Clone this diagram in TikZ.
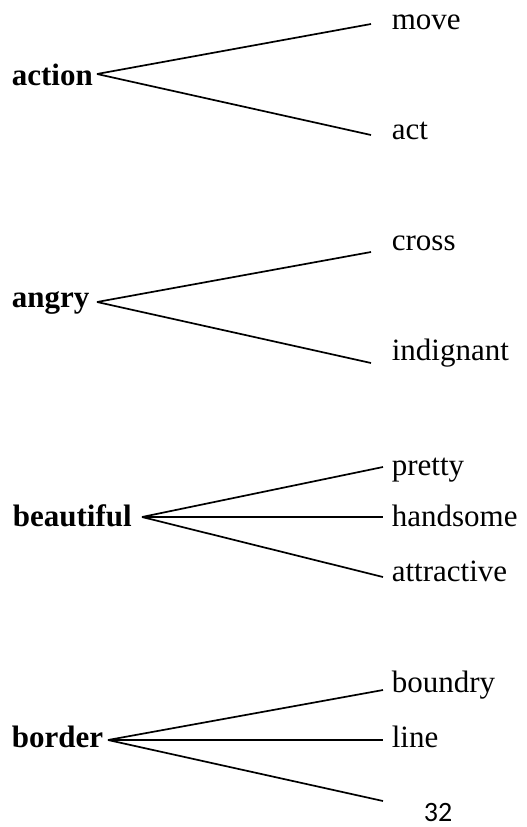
\documentclass[tikz,border=0pt]{standalone}
\usepackage{fontspec}
\setmainfont{Liberation Serif}
\newfontfamily\pagefont{Carlito}

\begin{document}
\begin{tikzpicture}[x=1pt,y=-1pt,
  point/.style={coordinate},
  word/.style={anchor=base west, inner sep=0pt, font=\fontsize{31}{37}\selectfont},
  head/.style={word, font=\fontsize{31}{37}\selectfont\bfseries},
  every path/.style={line width=1.7pt}]
\useasboundingbox (0,0) rectangle (527,827);
% action
\node[head] (action) at (11,85)  {action};
\node[point] (action-r) at (97,74)  {};
\node[point] (move-l) at (371,24)  {};
\node[point] (act-l) at (371,135)  {};
\node[word] (move) at (391,29)  {move};
\node[word] (act) at (391,139)  {act};
% angry
\node[head] (angry) at (11,307)  {angry};
\node[point] (angry-r) at (97,302)  {};
\node[point] (cross-l) at (371,252)  {};
\node[point] (indignant-l) at (371,363)  {};
\node[word] (cross) at (391,250)  {cross};
\node[word] (indignant) at (391,360)  {indignant};
% beautiful
\node[head] (beautiful) at (12,526)  {beautiful};
\node[point] (beautiful-r) at (142,517)  {};
\node[point] (pretty-l) at (383,467)  {};
\node[point] (handsome-l) at (383,517)  {};
\node[point] (attractive-l) at (383,577)  {};
\node[word] (pretty) at (391,475)  {pretty};
\node[word] (handsome) at (391,526)  {handsome};
\node[word] (attractive) at (391,581)  {attractive};
% border
\node[head] (border) at (11,747)  {border};
\node[point] (border-r) at (108,740)  {};
\node[point] (boundry-l) at (383,690)  {};
\node[point] (line-l) at (383,740)  {};
\node[point] (blank-l) at (383,801)  {};
\node[word] (boundry) at (391,692)  {boundry};
\node[word] (line) at (391,747)  {line};
\node[anchor=base west, inner sep=0pt, font=\pagefont\fontsize{28}{34}\selectfont] (page) at (423,821)  {32};
\draw   (action-r) -- (move-l);
\draw   (action-r) -- (act-l);
\draw   (angry-r) -- (cross-l);
\draw   (angry-r) -- (indignant-l);
\draw   (beautiful-r) -- (pretty-l);
\draw   (beautiful-r) -- (handsome-l);
\draw   (beautiful-r) -- (attractive-l);
\draw   (border-r) -- (boundry-l);
\draw   (border-r) -- (line-l);
\draw   (border-r) -- (blank-l);
\end{tikzpicture}
\end{document}
